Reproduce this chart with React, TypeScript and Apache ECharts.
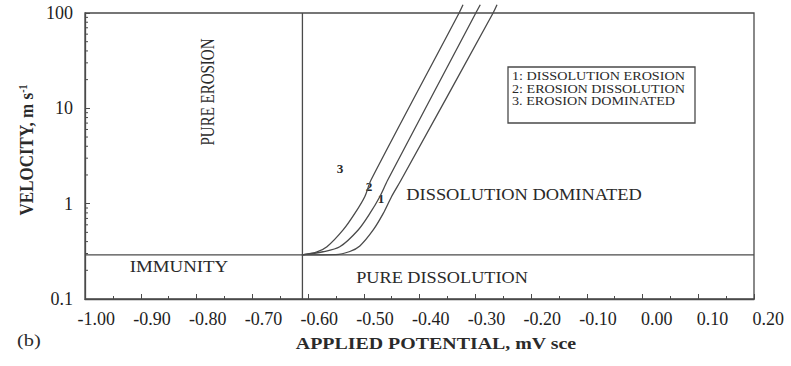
import React, { useEffect, useRef } from "react";
import * as echarts from "echarts";

// Applied potential (V sce) vs velocity (m/s) boundary curves
const curve1: [number, number][] = [
  [-0.611, 0.29], [-0.55, 0.292], [-0.525, 0.315], [-0.507, 0.36], [-0.483, 0.53],
  [-0.465, 0.79], [-0.45, 1.19], [-0.433, 1.77], [-0.268, 100], [-0.261, 122],
];
const curve2: [number, number][] = [
  [-0.611, 0.29], [-0.573, 0.313], [-0.543, 0.353], [-0.51, 0.53], [-0.489, 0.79],
  [-0.471, 1.19], [-0.457, 1.77], [-0.299, 100], [-0.291, 122],
];
const curve3: [number, number][] = [
  [-0.611, 0.29], [-0.585, 0.31], [-0.566, 0.353], [-0.537, 0.53], [-0.516, 0.79],
  [-0.498, 1.19], [-0.487, 1.77], [-0.329, 100], [-0.322, 122],
];

// Regime boundaries
const immunityVelocity = 0.29;
const immunityPotential = -0.61;
const horizontalBoundary: [number, number][] = [[-1.0, immunityVelocity], [0.2, immunityVelocity]];
const verticalBoundary: [number, number][] = [[immunityPotential, 0.1], [immunityPotential, 100]];

// Log-axis minor tick values
const minorTickValues: number[] = [
  0.2, 0.3, 0.4, 0.5, 0.6, 0.7, 0.8, 0.9,
  2, 3, 4, 5, 6, 7, 8, 9,
  20, 30, 40, 50, 60, 70, 80, 90,
];

const legendLines = ["1: DISSOLUTION EROSION", "2: EROSION DISSOLUTION", "3. EROSION DOMINATED"];

const SERIF = "'Liberation Serif', 'Times New Roman', serif";
const LINE = "#4a4a4a";
const TEXT = "#2a2a2a";

export default function App() {
  const ref = useRef<HTMLDivElement>(null);

  useEffect(() => {
    if (!ref.current) return;
    const chart = echarts.init(ref.current, undefined, { renderer: "svg" });

    const curveStyle = { color: LINE, width: 1.3 };
    const txt = (
      text: string, x: number, y: number, size: number, sx: number,
      weight: string = "normal", align: string = "center",
    ) => ({
      type: "text", x, y, scaleX: sx,
      style: {
        text, fill: TEXT, font: `${weight} ${size}px ${SERIF}`,
        textAlign: align, textVerticalAlign: "middle",
      },
    });

    chart.setOption({
      animation: false,
      backgroundColor: "#ffffff",
      grid: {
        left: 85, right: 37, top: 13, bottom: 67,
        show: true, borderColor: LINE, borderWidth: 1.3,
        containLabel: false, outerBoundsMode: "none",
      },
      xAxis: {
        type: "value", min: -1.0, max: 0.2, interval: 0.1,
        axisLine: { onZero: false, lineStyle: { color: LINE, width: 1.3 } },
        axisTick: { inside: true, length: 5, lineStyle: { color: LINE } },
        minorTick: { show: true, splitNumber: 2, length: 3, lineStyle: { color: LINE } },
        splitLine: { show: false },
        axisLabel: {
          color: "#1e1e1e", fontFamily: SERIF, fontSize: 18, margin: 11,
          align: "right", padding: [0, -30, 0, 0],
          formatter: (v: number) => (Math.abs(v) < 1e-9 ? "0.00" : v.toFixed(2)),
        },
      },
      yAxis: {
        type: "log", logBase: 10, min: 0.1, max: 100,
        axisLine: { onZero: false, lineStyle: { color: LINE, width: 1.3 } },
        axisTick: { inside: true, length: 5, lineStyle: { color: LINE } },
        splitLine: { show: false },
        axisLabel: {
          color: "#1e1e1e", fontFamily: SERIF, fontSize: 18, margin: 12,
          formatter: (v: number) => String(v),
        },
      },
      series: [
        {
          type: "line", data: curve1, smooth: 0.3, symbol: "none", clip: false,
          lineStyle: curveStyle,
        },
        {
          type: "line", data: curve2, smooth: 0.3, symbol: "none", clip: false,
          lineStyle: curveStyle,
        },
        {
          type: "line", data: curve3, smooth: 0.3, symbol: "none", clip: false,
          lineStyle: curveStyle,
        },
        {
          type: "line", data: horizontalBoundary, symbol: "none",
          lineStyle: { color: LINE, width: 1.3 },
        },
        {
          type: "line", data: verticalBoundary, symbol: "none",
          lineStyle: { color: LINE, width: 1.3 },
        },
        {
          type: "custom",
          data: minorTickValues.map((v) => [-1.0, v]),
          clip: false,
          renderItem: (_params: unknown, api: any) => {
            const p = api.coord([api.value(0), api.value(1)]);
            return {
              type: "line",
              shape: { x1: p[0], y1: p[1], x2: p[0] + 3, y2: p[1] },
              style: { stroke: LINE, lineWidth: 1 },
            };
          },
        },
      ],
      graphic: [
        txt("(b)", 17, 340, 17, 1.2, "normal", "left"),
        txt("APPLIED POTENTIAL, mV sce", 436, 343, 17, 1.17, "bold"),
        {
          type: "text", x: 27, y: 150, rotation: Math.PI / 2, scaleY: 1.15,
          style: {
            text: "VELOCITY, m s{sup|-1}",
            fill: TEXT, font: `bold 17px ${SERIF}`,
            textAlign: "center", textVerticalAlign: "middle",
            rich: { sup: { font: `bold 10px ${SERIF}`, fill: TEXT, verticalAlign: "top", padding: [0, 0, 8, 0] } },
          },
        },
        {
          type: "text", x: 208, y: 92, rotation: Math.PI / 2, scaleY: 1.2,
          style: {
            text: "PURE EROSION", fill: TEXT, font: `15px ${SERIF}`,
            textAlign: "center", textVerticalAlign: "middle",
          },
        },
        txt("IMMUNITY", 179, 267, 16, 1.18),
        txt("PURE DISSOLUTION", 442, 278, 16, 1.14),
        txt("DISSOLUTION DOMINATED", 524, 195, 16, 1.15),
        txt("3", 340, 169, 12, 1.1, "bold"),
        txt("2", 369, 187, 12, 1.1, "bold"),
        txt("1", 381, 199, 12, 1.1, "bold"),
        {
          type: "rect",
          shape: { x: 508, y: 67, width: 187, height: 56 },
          style: { fill: "none", stroke: LINE, lineWidth: 1.3 },
        },
        ...legendLines.map((l, i) => txt(l, 512, 76 + i * 12.5, 12, 1.18, "normal", "left")),
      ],
    });

    return () => chart.dispose();
  }, []);

  return (
    <div
      ref={ref}
      style={{ position: "absolute", left: 0, top: 0, width: 791, height: 366 }}
    />
  );
}
